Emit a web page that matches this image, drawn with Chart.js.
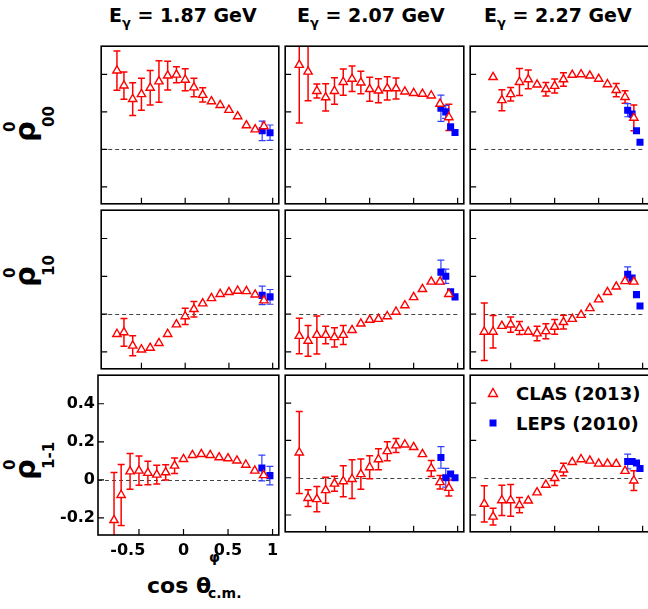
<!DOCTYPE html>
<html><head><meta charset="utf-8">
<script src="https://cdn.jsdelivr.net/npm/chart.js"></script>
<style>
html,body{margin:0;padding:0;overflow:hidden;background:#fff;}
body{width:648px;height:609px;position:relative;font-family:"DejaVu Sans",sans-serif;font-weight:bold;color:#000;}
canvas{position:absolute;}
.txt{position:absolute;white-space:nowrap;line-height:1;}
.title{font-size:19px;}
.title .g{font-size:13px;position:relative;top:5px;}
.ylab{position:absolute;left:35px;width:0;height:0;transform-origin:0 0;transform:rotate(-90deg);}
.ylab span{position:absolute;white-space:nowrap;line-height:1;}
</style></head><body>

<div class="txt title" style="left:109px;top:6px;">E<span class="g">γ</span> = 1.87 GeV</div>
<div class="txt title" style="left:297px;top:6px;">E<span class="g">γ</span> = 2.07 GeV</div>
<div class="txt title" style="left:484px;top:6px;">E<span class="g">γ</span> = 2.27 GeV</div>

<div class="ylab" style="top:142px;"><span style="font-size:29px;left:0;top:-24px;">ρ</span><span style="font-size:15px;left:10px;top:-32px;">0</span><span style="font-size:15px;left:15px;top:7px;">00</span></div>
<div class="ylab" style="top:287px;"><span style="font-size:29px;left:0;top:-24px;">ρ</span><span style="font-size:15px;left:9px;top:-32px;">0</span><span style="font-size:15px;left:11px;top:7px;">10</span></div>
<div class="ylab" style="top:480px;"><span style="font-size:29px;left:0;top:-24px;">ρ</span><span style="font-size:15px;left:10px;top:-32px;">0</span><span style="font-size:15px;left:11px;top:7px;">1-1</span></div>

<div class="txt" style="left:147px;top:575px;font-size:22px;">cos θ</div>
<div class="txt" style="left:209px;top:550px;font-size:14px;">φ</div>
<div class="txt" style="left:208px;top:586px;font-size:14px;">c.m.</div>

<svg style="position:absolute;left:487px;top:387px;" width="12" height="12"><polygon points="6,1.5 10.5,9.5 1.5,9.5" fill="#fff" stroke="#ff0000" stroke-width="1.4"/></svg>
<div class="txt" style="left:516px;top:385px;font-size:18px;">CLAS (2013)</div>
<svg style="position:absolute;left:487px;top:417px;" width="12" height="12"><rect x="2.5" y="2.5" width="7" height="7" fill="#0000ff"/></svg>
<div class="txt" style="left:516px;top:415px;font-size:18px;">LEPS (2010)</div>

<script>
// ---------- data ----------
const xTicks = [-0.5, 0, 0.5, 1];
const yTicks = [-0.2, 0, 0.2, 0.4];

const xClas187 = [-0.78,-0.7,-0.6,-0.5,-0.4,-0.3,-0.2,-0.1,0,0.1,0.2,0.3,0.4,0.5,0.6,0.7,0.8,0.9];
const xClas = [-0.8,-0.7,-0.6,-0.5,-0.4,-0.3,-0.2,-0.1,0,0.1,0.2,0.3,0.4,0.5,0.6,0.7,0.8,0.9];
const xLeps187 = [0.88, 0.97];
const xLeps207 = [0.81, 0.865, 0.92, 0.97];
const xLeps227 = [0.83, 0.88, 0.93, 0.97];

// rho00
const clasRho00E187 = [0.42,0.34,0.268,0.294,0.328,0.362,0.393,0.398,0.371,0.33,0.29,0.256,0.236,0.21,0.176,0.128,0.106,0.123];
const clasRho00E187Err = [0.105,0.073,0.087,0.085,0.092,0.111,0.077,0.043,0.059,0.049,0.038,0.01,0.01,0.01,0.01,0.01,0.01,0.015];
const lepsRho00E187 = [0.099,0.089];
const lepsRho00E187Err = [0.052,0.041];

const clasRho00E207 = [0.45,0.414,0.311,0.277,0.311,0.359,0.376,0.356,0.321,0.313,0.325,0.325,0.308,0.3,0.296,0.287,0.243,0.171];
const clasRho00E207Err = [0.31,0.155,0.037,0.073,0.071,0.07,0.068,0.06,0.064,0.064,0.062,0.056,0.01,0.01,0.01,0.01,0.02,0.07];
const lepsRho00E207 = [0.219,0.2,0.12,0.09];
const lepsRho00E207Err = [0.07,0.035,0.01,0.01];

const clasRho00E227 = [null,0.385,0.262,0.294,0.359,0.373,0.345,0.321,0.338,0.373,0.397,0.4,0.393,0.376,0.347,0.316,0.279,0.168];
const clasRho00E227Err = [0,0.005,0.056,0.036,0.072,0.05,0.01,0.036,0.037,0.036,0.01,0.01,0.01,0.01,0.01,0.035,0.033,0.068];
const lepsRho00E227 = [0.209,0.188,0.099,0.038];
const lepsRho00E227Err = [0.035,0.01,0.01,0.01];

// rho10
const clasRho10E187 = [-0.106,-0.097,-0.168,-0.188,-0.179,-0.154,-0.106,-0.055,-0.012,0.026,0.056,0.084,0.106,0.116,0.123,0.121,0.103,0.072];
const clasRho10E187Err = [0.01,0.073,0.053,0.01,0.01,0.01,0.01,0.01,0.043,0.041,0.01,0.01,0.01,0.01,0.01,0.01,0.01,0.01];
const lepsRho10E187 = [0.099,0.091];
const lepsRho10E187Err = [0.049,0.039];

const clasRho10E207 = [-0.116,-0.142,-0.111,-0.111,-0.123,-0.111,-0.085,-0.051,-0.031,-0.026,-0.012,0.012,0.046,0.089,0.132,0.171,0.171,0.106];
const clasRho10E207Err = [0.094,0.081,0.1,0.046,0.051,0.05,0.01,0.01,0.01,0.01,0.01,0.01,0.01,0.01,0.01,0.01,0.01,0.01];
const lepsRho10E207 = [0.222,0.2,0.118,0.091];
const lepsRho10E207Err = [0.064,0.038,0.01,0.01];

const clasRho10E227 = [-0.094,-0.094,-0.063,-0.056,-0.074,-0.094,-0.103,-0.091,-0.068,-0.043,-0.026,-0.005,0.031,0.077,0.116,0.145,0.174,0.171];
const clasRho10E227Err = [0.152,0.086,0.01,0.041,0.034,0.01,0.038,0.04,0.039,0.036,0.01,0.01,0.01,0.01,0.01,0.01,0.01,0.01];
const lepsRho10E227 = [0.21,0.191,0.103,0.043];
const lepsRho10E227Err = [0.04,0.01,0.01,0.01];

// rho1-1
const clasRho1m1E187 = [-0.212,-0.08,0.044,0.048,0.036,0.027,0.039,0.074,0.109,0.13,0.135,0.13,0.118,0.113,0.101,0.079,0.048,0.024];
const clasRho1m1E187Err = [0.25,0.16,0.094,0.077,0.062,0.049,0.04,0.041,0.01,0.01,0.01,0.01,0.01,0.01,0.01,0.01,0.01,0.01];
const lepsRho1m1E187 = [0.062,0.022];
const lepsRho1m1E187Err = [0.068,0.049];

const clasRho1m1E207 = [0.135,-0.109,-0.115,-0.067,-0.032,-0.019,-0.007,0.019,0.056,0.099,0.142,0.173,0.178,0.164,0.126,0.05,-0.024,-0.055];
const clasRho1m1E207Err = [0.22,0.045,0.068,0.07,0.04,0.083,0.104,0.081,0.062,0.056,0.051,0.038,0.01,0.01,0.01,0.043,0.036,0.043];
const lepsRho1m1E207 = [0.109,0.0,0.02,0.0];
const lepsRho1m1E207Err = [0.058,0.05,0.01,0.01];

const clasRho1m1E227 = [-0.14,-0.209,-0.121,-0.121,-0.147,-0.123,-0.079,-0.038,-0.002,0.044,0.084,0.099,0.091,0.075,0.075,0.074,0.036,-0.015];
const clasRho1m1E227Err = [0.097,0.045,0.081,0.085,0.041,0.01,0.01,0.01,0.04,0.034,0.01,0.01,0.01,0.01,0.01,0.01,0.01,0.053];
const lepsRho1m1E227 = [0.087,0.087,0.079,0.05];
const lepsRho1m1E227Err = [0.04,0.01,0.01,0.01];

// ---------- layout ----------
const X_MIN = -0.96, X_MAX = 1.07, Y_MIN = -0.29, Y_MAX = 0.55;
const colL = [98, 282, 467], colW = [184, 185, 185];
const rowT = [43, 207, 372], rowH = [164, 165, 163];
const M = 3;

const panels = [
  {c:0,r:0,cx:xClas187,cv:clasRho00E187,ce:clasRho00E187Err,lx:xLeps187,lv:lepsRho00E187,le:lepsRho00E187Err,z:X_MIN},
  {c:1,r:0,cx:xClas,cv:clasRho00E207,ce:clasRho00E207Err,lx:xLeps207,lv:lepsRho00E207,le:lepsRho00E207Err,z:-0.8},
  {c:2,r:0,cx:xClas,cv:clasRho00E227,ce:clasRho00E227Err,lx:xLeps227,lv:lepsRho00E227,le:lepsRho00E227Err,z:-0.8},
  {c:0,r:1,cx:xClas187,cv:clasRho10E187,ce:clasRho10E187Err,lx:xLeps187,lv:lepsRho10E187,le:lepsRho10E187Err,z:X_MIN},
  {c:1,r:1,cx:xClas,cv:clasRho10E207,ce:clasRho10E207Err,lx:xLeps207,lv:lepsRho10E207,le:lepsRho10E207Err,z:-0.8},
  {c:2,r:1,cx:xClas,cv:clasRho10E227,ce:clasRho10E227Err,lx:xLeps227,lv:lepsRho10E227,le:lepsRho10E227Err,z:-0.8},
  {c:0,r:2,cx:xClas187,cv:clasRho1m1E187,ce:clasRho1m1E187Err,lx:xLeps187,lv:lepsRho1m1E187,le:lepsRho1m1E187Err,z:X_MIN},
  {c:1,r:2,cx:xClas,cv:clasRho1m1E207,ce:clasRho1m1E207Err,lx:xLeps207,lv:lepsRho1m1E207,le:lepsRho1m1E207Err,z:-0.8},
  {c:2,r:2,cx:xClas,cv:clasRho1m1E227,ce:clasRho1m1E227Err,lx:xLeps227,lv:lepsRho1m1E227,le:lepsRho1m1E227Err,z:-0.8}
];

const deco = {
  id: 'deco',
  beforeDatasetsDraw(chart, args, opts) {
    const {ctx, chartArea: a, scales: {x, y}} = chart;
    ctx.save();
    ctx.beginPath(); ctx.rect(a.left, a.top, a.right - a.left, a.bottom - a.top); ctx.clip();
    ctx.strokeStyle = '#444'; ctx.lineWidth = 1; ctx.setLineDash([4, 3]);
    const y0 = Math.round(y.getPixelForValue(0)) + 0.5;
    ctx.beginPath(); ctx.moveTo(x.getPixelForValue(opts.zeroFrom), y0); ctx.lineTo(x.getPixelForValue(1), y0); ctx.stroke();
    ctx.setLineDash([]);
    chart.data.datasets.forEach(ds => {
      ctx.strokeStyle = ds.errColor; ctx.lineWidth = ds.errWidth;
      ds.data.forEach((p, i) => {
        const e = ds.errs[i];
        if (p.y === null || !e) return;
        const px = x.getPixelForValue(p.x);
        const pt = y.getPixelForValue(p.y + e), pb = y.getPixelForValue(p.y - e);
        if (pb - pt < 10) return;
        ctx.beginPath(); ctx.moveTo(px, pt); ctx.lineTo(px, pb);
        ctx.moveTo(px - 3.5, pt); ctx.lineTo(px + 3.5, pt);
        ctx.moveTo(px - 3.5, pb); ctx.lineTo(px + 3.5, pb);
        ctx.stroke();
      });
    });
    ctx.restore();
  },
  afterDraw(chart) {
    const {ctx, chartArea: a, scales: {x, y}} = chart;
    ctx.save();
    ctx.strokeStyle = '#000'; ctx.lineWidth = 1.6;
    ctx.strokeRect(a.left, a.top, a.right - a.left, a.bottom - a.top);
    ctx.lineWidth = 1.2;
    ctx.beginPath();
    y.ticks.forEach(t => { const p = y.getPixelForValue(t.value); ctx.moveTo(a.left, p); ctx.lineTo(a.left + 6, p); });
    x.ticks.forEach(t => { const p = x.getPixelForValue(t.value); ctx.moveTo(p, a.bottom); ctx.lineTo(p, a.bottom - 6); });
    ctx.stroke();
    ctx.restore();
  }
};

const tickFont = {family: '"DejaVu Sans", sans-serif', size: 16, weight: 'bold'};

panels.forEach(P => {
  const isBL = P.c === 0 && P.r === 2;
  const LW = isBL ? 50 : 0, BH = isBL ? 30 : 0;
  const w = colW[P.c] + 2 * M + LW, h = rowH[P.r] + 2 * M + BH;
  const cv = document.createElement('canvas');
  cv.width = w; cv.height = h;
  cv.style.left = (colL[P.c] - M - LW) + 'px';
  cv.style.top = (rowT[P.r] - M) + 'px';
  cv.style.width = w + 'px'; cv.style.height = h + 'px';
  document.body.appendChild(cv);

  const clasData = [];
  const clasErr = [];
  P.cx.forEach((xv, i) => { if (P.cv[i] !== null) { clasData.push({x: xv, y: P.cv[i]}); clasErr.push(P.ce[i]); } });
  const lepsData = P.lx.map((xv, i) => ({x: xv, y: P.lv[i]}));

  new Chart(cv, {
    type: 'scatter',
    data: {
      datasets: [
        {label: 'CLAS (2013)', data: clasData, errs: clasErr, errColor: '#ff0000', errWidth: 1.5,
         pointStyle: 'triangle', pointRadius: 4.8, borderColor: '#ff0000', backgroundColor: '#ffffff', borderWidth: 1.4, showLine: false},
        {label: 'LEPS (2010)', data: lepsData, errs: P.le, errColor: '#3040ff', errWidth: 1.2,
         pointStyle: 'rect', pointRadius: 5, borderColor: '#0000ff', backgroundColor: '#0000ff', borderWidth: 0, showLine: false}
      ]
    },
    options: {
      responsive: false, animation: false, events: [],
      layout: {padding: {left: M, right: M, top: M, bottom: M}},
      plugins: {legend: {display: false}, tooltip: {enabled: false}, deco: {zeroFrom: P.z}},
      scales: {
        x: {
          type: 'linear', min: X_MIN, max: X_MAX,
          afterBuildTicks: s => { s.ticks = xTicks.map(v => ({value: v})); },
          afterFit: s => { s.height = BH; s.paddingLeft = 0; s.paddingRight = 0; s.paddingTop = 0; s.paddingBottom = 0; },
          grid: {display: false, drawTicks: false}, border: {display: false},
          ticks: {display: isBL, font: tickFont, color: '#000', padding: 6, maxRotation: 0, autoSkip: false,
                  callback: v => (v < 0 ? String(v) + '    ' : String(v))}
        },
        y: {
          type: 'linear', min: Y_MIN, max: Y_MAX,
          afterBuildTicks: s => { s.ticks = yTicks.map(v => ({value: v})); },
          afterFit: s => { s.width = LW; s.paddingLeft = 0; s.paddingRight = 0; s.paddingTop = 0; s.paddingBottom = 0; },
          grid: {display: false, drawTicks: false}, border: {display: false},
          ticks: {display: isBL, font: tickFont, color: '#000', padding: 3, autoSkip: false,
                  callback: v => String(v)}
        }
      }
    },
    plugins: [deco]
  });
});
</script>
</body></html>
